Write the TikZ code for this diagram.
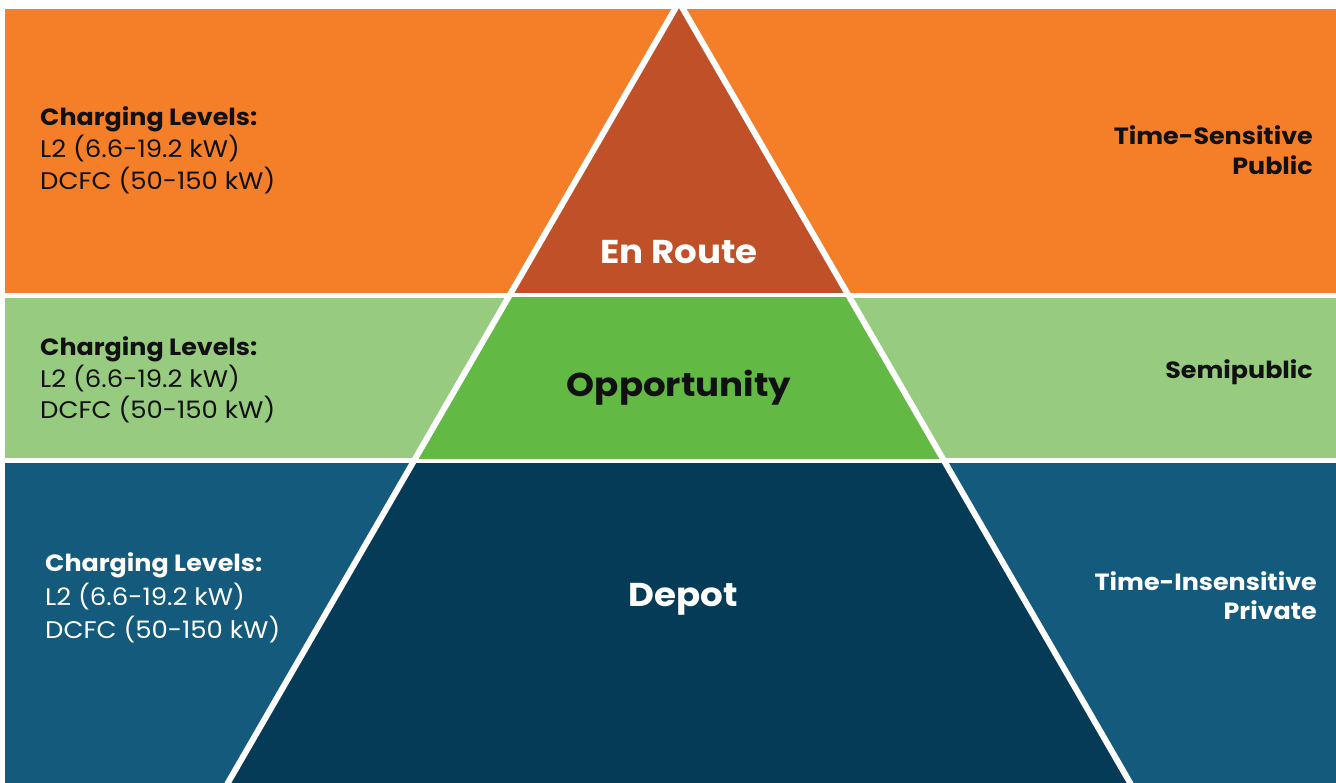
\documentclass[tikz,border=0pt]{standalone}
\usepackage{fontspec}
\setmainfont[FakeStretch=1.08]{Poppins}
\definecolor{orangeband}{HTML}{F47F28}
\definecolor{enroute}{HTML}{BF5027}
\definecolor{lightgreen}{HTML}{97CB80}
\definecolor{oppgreen}{HTML}{62BA45}
\definecolor{sideblue}{HTML}{135A7D}
\definecolor{depotblue}{HTML}{053B57}
\definecolor{txtdark}{HTML}{111111}
\tikzset{
  headtext/.style={font=\fontsize{23.5}{28}\selectfont\bfseries, anchor=base west, inner sep=0pt},
  leveltext/.style={font=\fontsize{24}{30}\selectfont, anchor=base west, inner sep=0pt},
  righttext/.style={font=\fontsize{23.5}{28}\selectfont\bfseries, anchor=base east, inner sep=0pt},
  tiertext/.style={font=\fontsize{33}{40}\selectfont\bfseries, inner sep=0pt},
  edgeline/.style={white, line width=6pt}
}
\begin{document}
\begin{tikzpicture}[x=1pt,y=-1pt]
\useasboundingbox (0,0) rectangle (1336,783);
% apex and base of the pyramid
\coordinate (apex) at (679,2);
\coordinate (bl) at (218,800);
\coordinate (br) at (1140,800);
% bands
\fill[orangeband] (5,9) rectangle (1336,293);
\fill[lightgreen] (5,298) rectangle (1336,458);
\fill[sideblue] (5,463) rectangle (1336,783);
% pyramid tiers
\begin{scope}
  \clip (5,9) rectangle (1336,293);
  \fill[enroute] (apex) -- (bl) -- (br) -- cycle;
\end{scope}
\begin{scope}
  \clip (5,298) rectangle (1336,458);
  \fill[oppgreen] (apex) -- (bl) -- (br) -- cycle;
\end{scope}
\begin{scope}
  \clip (5,463) rectangle (1336,783);
  \fill[depotblue] (apex) -- (bl) -- (br) -- cycle;
\end{scope}
% white edges
\draw[edgeline] (apex) -- (bl);
\draw[edgeline] (apex) -- (br);
% tier labels
\node[tiertext, white] (enr) at (679,252) {En Route};
\node[tiertext, txtdark] (opp) at (679,388) {Opportunity};
\node[tiertext, white] (dep) at (683,599) {Depot};
% left labels: orange band
\node[headtext, txtdark] (h1) at (40,126) {Charging Levels:};
\node[leveltext, txtdark] (a1) at (40,158) {L2 (6.6-19.2 kW)};
\node[leveltext, txtdark] (b1) at (40,190) {DCFC (50-150 kW)};
% left labels: green band
\node[headtext, txtdark] (h2) at (40,356) {Charging Levels:};
\node[leveltext, txtdark] (a2) at (40,388) {L2 (6.6-19.2 kW)};
\node[leveltext, txtdark] (b2) at (40,419) {DCFC (50-150 kW)};
% left labels: blue band
\node[headtext, white] (h3) at (45,571) {Charging Levels:};
\node[leveltext, white] (a3) at (45,605) {L2 (6.6-19.2 kW)};
\node[leveltext, white] (b3) at (45,638) {DCFC (50-150 kW)};
% right labels
\node[righttext, txtdark] (r1a) at (1313,145) {Time-Sensitive};
\node[righttext, txtdark] (r1b) at (1313,175) {Public};
\node[righttext, txtdark] (r2) at (1313,379) {Semipublic};
\node[righttext, white] (r3a) at (1317,590) {Time-Insensitive};
\node[righttext, white] (r3b) at (1317,619) {Private};
\end{tikzpicture}
\end{document}
